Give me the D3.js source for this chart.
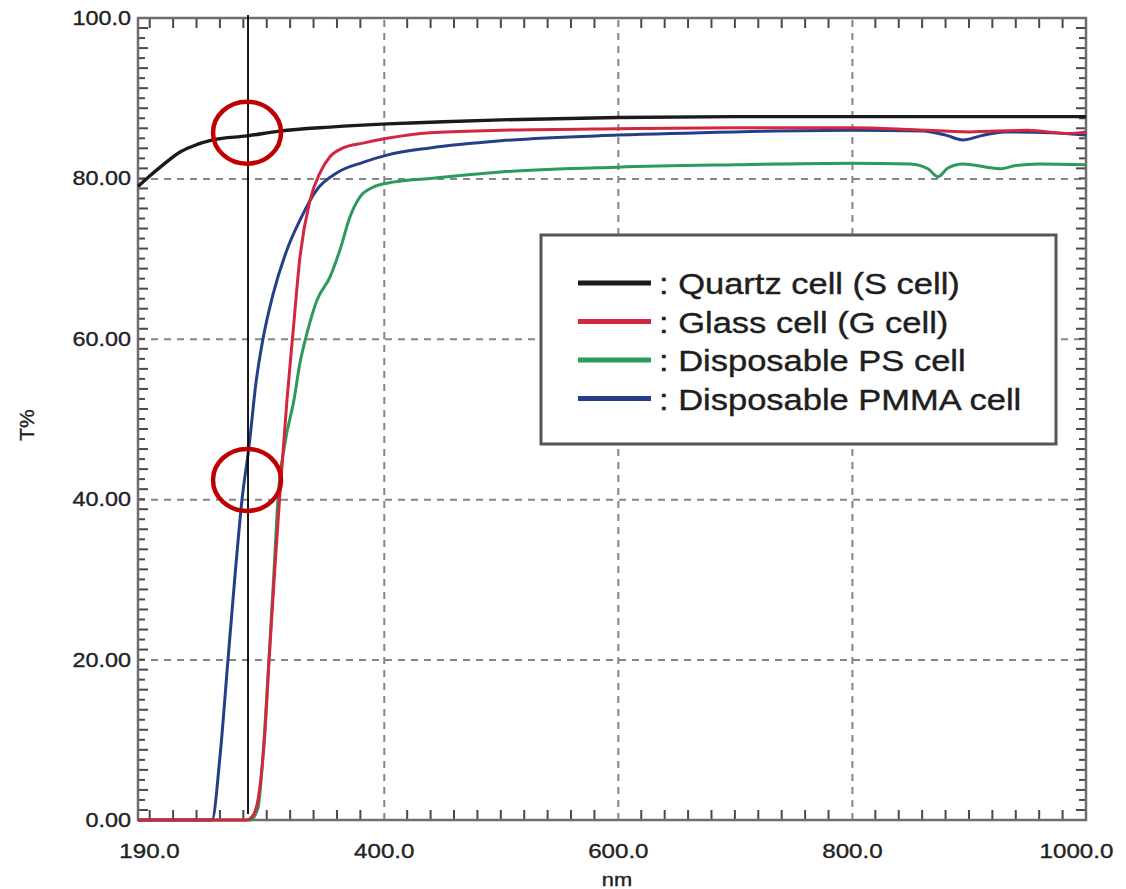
<!DOCTYPE html>
<html>
<head>
<meta charset="utf-8">
<script src="https://cdn.jsdelivr.net/npm/d3@7.9.0/dist/d3.min.js"></script>
<style>
  body { margin: 0; background: #fff; }
  svg { display: block; font-family: "Liberation Sans", Arial, sans-serif; }
</style>
</head>
<body>
<svg id="chart"></svg>
<script>
// wavelength (nm), T%
const quartzCell = [
  [190, 79.0], [200, 80.3], [209, 81.4], [226, 83.3], [240, 84.2], [254, 84.8],
  [283, 85.3], [311, 85.9], [354, 86.4], [403, 86.8], [440, 87.0], [500, 87.3],
  [600, 87.6], [700, 87.7], [800, 87.7], [900, 87.7], [1000, 87.7]
];
const glassCell = [
  [190, 0], [283, 0], [288, 0.5], [292.5, 2.5], [296, 6.6], [298.5, 11], [302, 20],
  [307, 31.5], [311.3, 40.8], [317.3, 52.4], [322.4, 60.7], [328.4, 70.2], [337, 77.3],
  [345.5, 80.7], [354, 82.7], [365.2, 83.8], [382.2, 84.4], [402.7, 85.0], [439.5, 85.7],
  [500, 86.0], [600, 86.2], [700, 86.3], [800, 86.3], [850, 86.1], [900, 85.8],
  [950, 86.0], [985, 85.6], [1000, 85.8]
];
const psCell = [
  [190, 0], [285.7, 0], [292.5, 1.5], [297.7, 10], [301.9, 20], [306.2, 31], [309.6, 40],
  [315.6, 47], [323.3, 52.4], [328.4, 57], [334.4, 60.7], [342.9, 64.8], [354, 67.7],
  [362.6, 71.1], [371.1, 75.2], [379.7, 77.7], [390.8, 78.9], [402.7, 79.4], [439.5, 80.0],
  [500, 80.8], [600, 81.4], [700, 81.7], [800, 81.9], [850, 81.8], [865, 81.2],
  [873.5, 80.2], [882, 81.3], [895, 81.8], [915, 81.4], [926.5, 81.2], [940, 81.6],
  [960, 81.8], [1000, 81.7]
];
const pmmaCell = [
  [190, 0], [253.2, 0], [260.1, 8], [266.9, 20], [272.9, 30.5], [278.9, 40], [284.8, 46.5],
  [290.8, 54.5], [296.8, 60], [305.3, 65.5], [317.3, 71.1], [328.4, 74.8], [342.9, 78.6],
  [360, 80.7], [382.2, 82.0], [402.7, 82.9], [439.5, 83.8], [500, 84.7], [600, 85.4],
  [700, 85.8], [800, 86.0], [860, 85.9], [880, 85.4], [895, 84.8], [910, 85.3],
  [930, 85.8], [970, 85.7], [1000, 85.4]
];

const seriesNames = [': Quartz cell (S cell)', ': Glass cell (G cell)', ': Disposable PS cell', ': Disposable PMMA cell'];
const seriesData = [quartzCell, glassCell, psCell, pmmaCell];
const seriesColors = ['#1b1b1b', '#d3263f', '#2b9a5a', '#243f88'];
const drawOrder = [2, 3, 1, 0];

const xLabels = [190, 400, 600, 800, 1000];
const yLabels = [0, 20, 40, 60, 80, 100];
const xGrid = [400, 600, 800];
const yGrid = [20, 40, 60, 80];
const xMinor = [200, 220, 240, 260, 280, 300, 320, 340, 360, 380, 420, 440, 460, 480, 500,
  520, 540, 560, 580, 620, 640, 660, 680, 700, 720, 740, 760, 780, 820, 840, 860, 880,
  900, 920, 940, 960, 980];

// annotation: vertical marker and two circled points
const markerNm = 284;
const circledT = [85.7, 42.4];

const width = 1126;
const height = 889;
const plot = { left: 138, right: 1086, top: 18, bottom: 820 };

const svg = d3.select('#chart')
  .attr('width', width)
  .attr('height', height)
  .attr('viewBox', `0 0 ${width} ${height}`);

svg.append('rect').attr('width', width).attr('height', height).attr('fill', '#fff');

const x = d3.scaleLinear().domain([190, 1000]).range([plot.left, plot.right]);
const y = d3.scaleLinear().domain([0, 100]).range([plot.bottom, plot.top]);

// GRIDLINES
svg.append('g')
  .attr('transform', `translate(0,${plot.bottom})`)
  .call(d3.axisBottom(x).tickValues(xGrid).tickFormat('').tickSize(-(plot.bottom - plot.top)))
  .call(g => g.select('.domain').remove())
  .selectAll('line')
  .attr('stroke', '#858585').attr('stroke-width', 2).attr('stroke-dasharray', '7,6');

svg.append('g')
  .attr('transform', `translate(${plot.left},0)`)
  .call(d3.axisLeft(y).tickValues(yGrid).tickFormat('').tickSize(-(plot.right - plot.left)))
  .call(g => g.select('.domain').remove())
  .selectAll('line')
  .attr('stroke', '#858585').attr('stroke-width', 2).attr('stroke-dasharray', '7,6');

// MINOR TICKS (inward on all four sides) as small filled rects
const yMinor = d3.range(1, 80).map(i => i * 1.25);
const tickG = svg.append('g').attr('fill', '#4a4a4a');

tickG.selectAll('rect.xb').data(xMinor).join('rect').attr('class', 'xb')
  .attr('x', d => x(d) - 1).attr('y', plot.bottom - 10).attr('width', 2).attr('height', 10);
tickG.selectAll('rect.xt').data(xMinor).join('rect').attr('class', 'xt')
  .attr('x', d => x(d) - 1).attr('y', plot.top).attr('width', 2).attr('height', 10);
tickG.selectAll('rect.yl').data(yMinor).join('rect').attr('class', 'yl')
  .attr('x', plot.left).attr('y', d => y(d) - 1)
  .attr('width', (d, i) => (i % 2 ? 7 : 10)).attr('height', 2);
tickG.selectAll('rect.yr').data(yMinor).join('rect').attr('class', 'yr')
  .attr('x', (d, i) => plot.right - (i % 2 ? 7 : 10)).attr('y', d => y(d) - 1)
  .attr('width', (d, i) => (i % 2 ? 7 : 10)).attr('height', 2);

// FRAME
svg.append('rect')
  .attr('x', plot.left).attr('y', plot.top)
  .attr('width', plot.right - plot.left).attr('height', plot.bottom - plot.top)
  .attr('fill', 'none').attr('stroke', '#6e6e6e').attr('stroke-width', 2.5);

// TICK LABELS
const xLabelShift = { 190: 11, 1000: -10 };

svg.append('g')
  .attr('transform', `translate(0,${plot.bottom})`)
  .call(d3.axisBottom(x).tickValues(xLabels).tickFormat(d3.format('.1f')).tickSize(0).tickPadding(23))
  .call(g => g.select('.domain').remove())
  .selectAll('text')
  .attr('font-size', 21).attr('fill', '#222')
  .attr('stroke', '#222').attr('stroke-width', 0.35)
  .attr('font-family', '"Liberation Sans", Arial, sans-serif')
  .attr('transform', d => `translate(${xLabelShift[d] || 0},0) scale(1.15,1)`);

svg.append('g')
  .attr('transform', `translate(${plot.left},0)`)
  .call(d3.axisLeft(y).tickValues(yLabels)
    .tickFormat(d => d === 100 ? '100.0' : d3.format('.2f')(d))
    .tickSize(0).tickPadding(6))
  .call(g => g.select('.domain').remove())
  .selectAll('text')
  .attr('font-size', 20).attr('fill', '#222')
  .attr('stroke', '#222').attr('stroke-width', 0.35)
  .attr('font-family', '"Liberation Sans", Arial, sans-serif')
  .attr('transform', 'scale(1.17,1)');

// AXIS TITLES
svg.append('text')
  .attr('transform', 'translate(34,425) rotate(-90)')
  .attr('text-anchor', 'middle')
  .attr('font-size', 21).attr('fill', '#222')
  .attr('stroke', '#222').attr('stroke-width', 0.35)
  .text('T%');

svg.append('text')
  .attr('transform', 'translate(617,886) scale(1.15,1)')
  .attr('text-anchor', 'middle')
  .attr('font-size', 19).attr('fill', '#222')
  .attr('stroke', '#222').attr('stroke-width', 0.35)
  .text('nm');

// CURVES
const line = d3.line()
  .x(d => x(d[0]))
  .y(d => y(d[1]))
  .curve(d3.curveMonotoneX);

svg.append('g')
  .selectAll('path')
  .data(drawOrder)
  .join('path')
  .attr('d', i => line(seriesData[i]))
  .attr('fill', 'none')
  .attr('stroke', i => seriesColors[i])
  .attr('stroke-width', i => (i === 0 ? 3.4 : 3))
  .attr('stroke-linejoin', 'round');

// LEGEND
const legend = svg.append('g');
legend.append('rect')
  .attr('x', 541).attr('y', 235).attr('width', 515).attr('height', 209)
  .attr('fill', '#fff').attr('stroke', '#555').attr('stroke-width', 3);

const rows = legend.selectAll('g.row')
  .data(seriesNames)
  .join('g')
  .attr('class', 'row')
  .attr('transform', (d, i) => `translate(0,${283 + i * 38.5})`);

rows.append('line')
  .attr('x1', 578).attr('x2', 651).attr('y1', 0).attr('y2', 0)
  .attr('stroke', (d, i) => seriesColors[i]).attr('stroke-width', 5);

rows.append('text')
  .attr('transform', 'translate(659,11) scale(1.15,1)')
  .attr('font-size', 30).attr('fill', '#1e1e1e')
  .attr('stroke', '#1e1e1e').attr('stroke-width', 0.4)
  .text(d => d);

// MARKER LINE AND CIRCLES
svg.append('line')
  .attr('x1', x(markerNm)).attr('x2', x(markerNm))
  .attr('y1', 15).attr('y2', 814)
  .attr('stroke', '#000').attr('stroke-width', 1.8);

svg.append('g')
  .selectAll('ellipse')
  .data(circledT)
  .join('ellipse')
  .attr('cx', x(markerNm) - 1)
  .attr('cy', d => y(d))
  .attr('rx', 34).attr('ry', 31)
  .attr('fill', 'none')
  .attr('stroke', '#c00000').attr('stroke-width', 4.5);
</script>
</body>
</html>
